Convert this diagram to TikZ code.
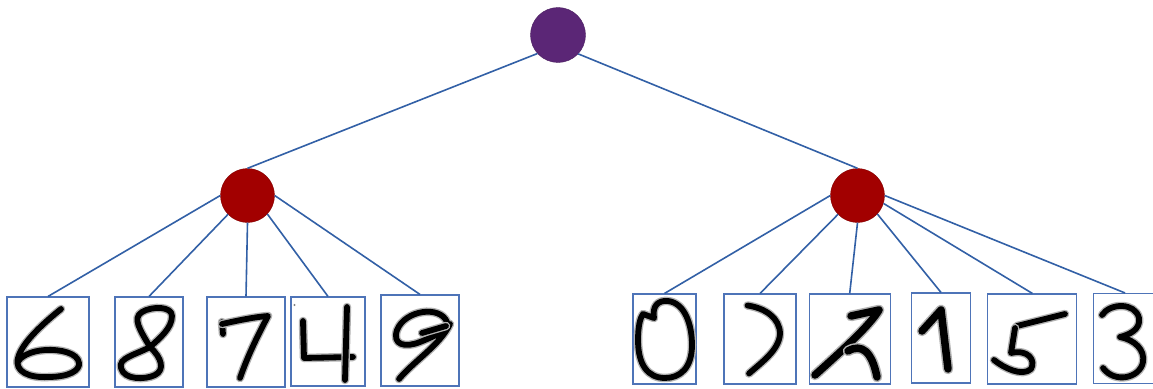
\documentclass[tikz,border=0pt]{standalone}
\begin{document}
\begin{tikzpicture}[x=1pt,y=-1pt,
  edge/.style={draw=edgeblue, line width=1.6pt},
  imgbox/.style={draw=boxblue, line width=1.1pt, rectangle, inner sep=0pt, minimum height=90pt},
  rootnode/.style={circle, fill=rootpurple, draw=rootpurple!80!black, line width=0.4pt, minimum size=55pt, inner sep=0pt},
  clusternode/.style={circle, fill=clusterred, draw=clusterred!80!black, line width=0.4pt, minimum size=54pt, inner sep=0pt},
  digit/.style={draw=black, line width=5.8pt, line cap=round, line join=round,
    preaction={draw=black!30, line width=8.5pt, line cap=round, line join=round}},
  thickdigit/.style={draw=black, line width=7.5pt, line cap=round, line join=round,
    preaction={draw=black!30, line width=10.5pt, line cap=round, line join=round}}
]
\definecolor{edgeblue}{RGB}{50,96,166}
\definecolor{boxblue}{RGB}{78,116,184}
\definecolor{rootpurple}{RGB}{91,38,118}
\definecolor{clusterred}{RGB}{162,0,0}
\useasboundingbox (0,0) rectangle (1153,388);
\fill[white] (0,0) rectangle (1153,388);

% nodes
\node[rootnode] (root) at (558,35) {};
\node[clusternode] (L) at (247.5,195.5) {};
\node[clusternode] (R) at (857.5,195.5) {};

\node[imgbox, minimum width=82pt] (b1) at (48,342) {};
\node[imgbox, minimum width=68pt] (b2) at (149,342) {};
\node[imgbox, minimum width=78pt] (b3) at (246,342) {};
\node[imgbox, minimum width=74pt, minimum height=89pt] (b4) at (328,341.5) {};
\node[imgbox, minimum width=78pt, minimum height=91pt] (b5) at (420,340.5) {};

\node[imgbox, minimum width=63pt] (c1) at (664.5,339) {};
\node[imgbox, minimum width=72pt] (c2) at (760,339) {};
\node[imgbox, minimum width=81pt] (c3) at (849.7,339) {};
\node[imgbox, minimum width=59.5pt] (c4) at (941,338) {};
\node[imgbox, minimum width=89pt] (c5) at (1032.4,339) {};
\node[imgbox, minimum width=63pt] (c6) at (1125,338.5) {};

% connectors
\draw[edge] (root.222) -- (L.north);
\draw[edge] (root.317) -- (R.north);

\draw[edge] (L.180) -- (b1.north);
\draw[edge] (L.224) -- (b2.north);
\draw[edge] (L.270) -- (b3.north);
\draw[edge] (L.317) -- (b4.north);
\draw[edge] (L.0) -- (b5.north);

\draw[edge] (R.180) -- (c1.north);
\draw[edge] (R.224) -- (c2.north);
\draw[edge] (R.270) -- (c3.north);
\draw[edge] (R.317) -- (c4.north);
\draw[edge] (R.343) -- (c5.north);
\draw[edge] (R.0) -- (c6.north);

% digit 6
\path[digit] (61,309) .. controls (45,322) and (22,342) .. (18,358)
  .. controls (14,372) and (30,378) .. (48,377)
  .. controls (70,377) and (80,370) .. (79,363)
  .. controls (78,353) and (60,349) .. (45,350)
  .. controls (30,351) and (20,357) .. (18,362);
% digit 8
\path[digit] (150,347) .. controls (140,330) and (132,318) .. (142,312)
  .. controls (152,306) and (172,306) .. (172,316)
  .. controls (172,328) and (160,338) .. (150,347)
  .. controls (135,355) and (118,358) .. (121,368)
  .. controls (124,380) and (145,380) .. (155,375)
  .. controls (165,370) and (162,358) .. (150,347);
% digit 7
\path[digit] (222,322) -- (223,334);
\path[digit] (222,324) .. controls (240,320) and (255,317) .. (268,316)
  .. controls (258,335) and (248,355) .. (240,378);
% digit 4
\path[digit] (303,321) -- (304,358) -- (353,357);
\path[digit] (347,307) -- (345,380);
\fill[black!50] (294.5,305) circle (1.2pt);
% digit 9
\path[digit] (447,322) .. controls (440,305) and (405,310) .. (397,330)
  .. controls (392,345) and (405,348) .. (420,342)
  .. controls (435,336) and (448,330) .. (450,324)
  .. controls (440,345) and (415,360) .. (399,379);
\path[digit] (422,333) -- (446,326);

% digit 0
\path[digit] (654,318) .. controls (652,306) and (658,300) .. (668,301)
  .. controls (685,303) and (692,325) .. (692,345)
  .. controls (692,368) and (680,378) .. (665,378)
  .. controls (648,378) and (638,365) .. (638,340)
  .. controls (638,327) and (640,318) .. (643,314) -- (654,318);
% digit ")"
\path[digit] (747.5,305.5) .. controls (765,308) and (780,318) .. (780,334)
  .. controls (779,350) and (762,362) .. (749,373.5);
% digit 2
\path[thickdigit] (851,316) -- (879,310) .. controls (870,325) and (845,348) .. (815,375);
\path[thickdigit] (848,351) .. controls (862,343) and (872,352) .. (877,377);
% digit 1
\path[thickdigit] (922,331) -- (941,310) -- (948,369);
% digit 5
\path[digit] (1017,326) -- (1065,314);
\path[digit] (1015,328) -- (1011,353) .. controls (1028,349) and (1036,360) .. (1031,369)
  .. controls (1022,377) and (1004,368) .. (994,360);
% digit 3
\path[digit] (1102,315) .. controls (1110,303) and (1135,302) .. (1139,318)
  .. controls (1141,330) and (1128,335) .. (1120,337)
  .. controls (1135,340) and (1145,350) .. (1143,362)
  .. controls (1140,378) and (1115,384) .. (1103,368);
\end{tikzpicture}
\end{document}
